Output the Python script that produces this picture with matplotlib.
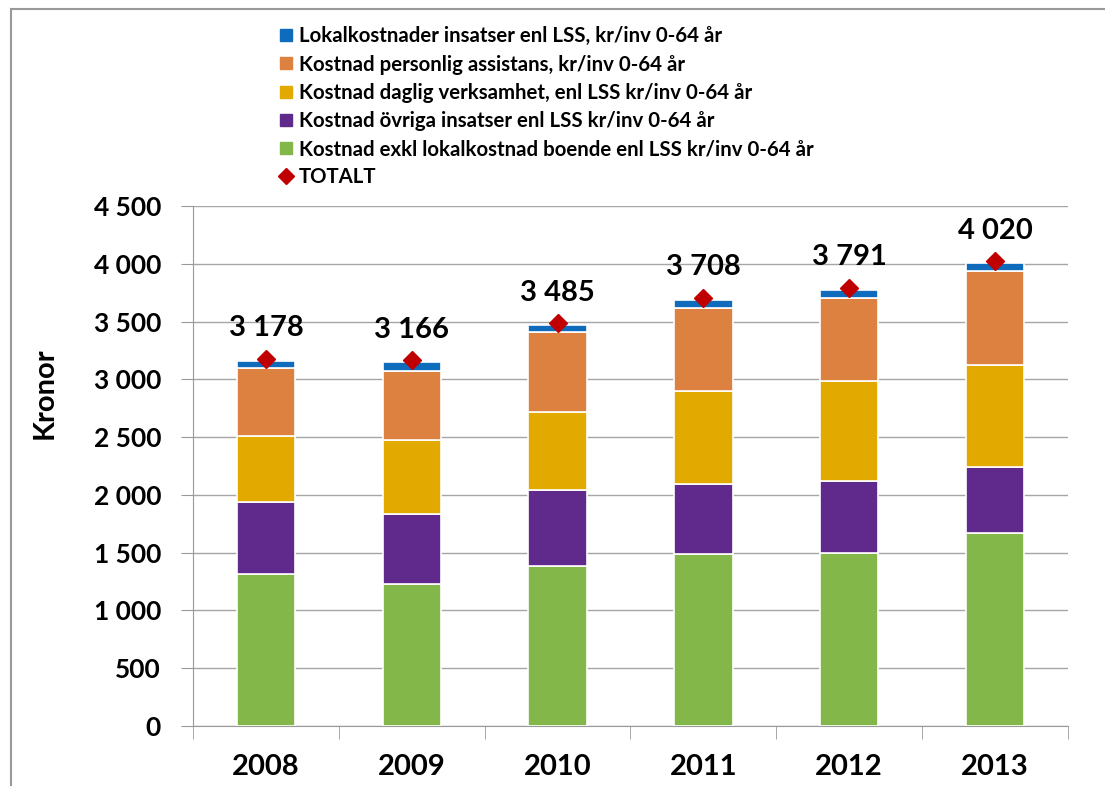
import matplotlib.pyplot as plt
import numpy as np
from matplotlib.lines import Line2D

# DATA
years = ['2008', '2009', '2010', '2011', '2012', '2013']
exkl_lokal = [1315, 1229, 1385, 1488, 1497, 1670]      # green
ovriga = [623, 606, 657, 606, 623, 571]                 # purple
daglig = [572, 640, 675, 805, 865, 883]                 # yellow
assistans = [588, 597, 693, 718, 719, 813]              # orange
lokal = [60, 78, 60, 69, 69, 70]                        # blue
totalt = [3178, 3166, 3485, 3708, 3791, 4020]
total_labels = ['3 178', '3 166', '3 485', '3 708', '3 791', '4 020']
yticks = [0, 500, 1000, 1500, 2000, 2500, 3000, 3500, 4000, 4500]
ytick_labels = ['0', '500', '1 000', '1 500', '2 000', '2 500', '3 000', '3 500', '4 000', '4 500']

names = ['Lokalkostnader insatser enl LSS, kr/inv 0-64 år',
         'Kostnad personlig assistans, kr/inv 0-64 år',
         'Kostnad daglig verksamhet, enl LSS kr/inv 0-64 år',
         'Kostnad övriga insatser enl LSS kr/inv 0-64 år',
         'Kostnad exkl lokalkostnad boende enl LSS kr/inv 0-64 år',
         'TOTALT']

c_blue = '#0F6CBD'
c_orange = '#DC8140'
c_yellow = '#E2AA00'
c_purple = '#5F2A8C'
c_green = '#83B74A'
c_red = '#C00000'

plt.rcParams['font.family'] = ['Lato', 'DejaVu Sans']

fig = plt.figure(figsize=(11.05, 7.86), dpi=100)
ax = fig.add_axes([193/1105, 1-726/786, (1068-193)/1105, (726-206)/786])

x = np.arange(len(years))
w = 0.4
bottom = np.zeros(len(years))
for vals, col in [(exkl_lokal, c_green), (ovriga, c_purple), (daglig, c_yellow),
                  (assistans, c_orange), (lokal, c_blue)]:
    ax.bar(x, vals, w, bottom=bottom, color=col, edgecolor='white', linewidth=1.2, zorder=3)
    bottom += np.array(vals)

ax.plot(x, totalt, linestyle='none', marker='D', markersize=9, color=c_red, zorder=5)
for xi, t, lab in zip(x, totalt, total_labels):
    ax.annotate(lab, (xi, t), xytext=(0, 22), textcoords='offset points',
                ha='center', va='center', fontsize=21, fontweight='bold')

ax.set_xlim(-0.5, len(years)-0.5)
ax.set_ylim(0, 4500)
ax.set_yticks(yticks)
ax.set_yticklabels(ytick_labels, fontsize=19, fontweight='bold')
ax.set_xticks(x)
ax.set_xticklabels(years, fontsize=21, fontweight='bold')
ax.set_xticks(np.arange(len(years)+1)-0.5, minor=True)
ax.tick_params(axis='x', which='major', length=0, pad=20)
ax.tick_params(axis='x', which='minor', length=9, color='#999999', direction='out')
ax.tick_params(axis='y', length=9, color='#999999', pad=14)
ax.grid(axis='y', color='#A6A6A6', linewidth=1, zorder=0)
for s in ['top', 'right']:
    ax.spines[s].set_visible(False)
ax.spines['left'].set_color('#999999')
ax.spines['bottom'].set_color('#999999')

fig.text(45/1105, 1-393/786, 'Kronor', rotation=90, ha='center', va='center',
         fontsize=21, fontweight='bold')

# LEGEND
handles = [Line2D([], [], linestyle='none', marker='s', markersize=9, color=c)
           for c in [c_blue, c_orange, c_yellow, c_purple, c_green]]
handles.append(Line2D([], [], linestyle='none', marker='D', markersize=8, color=c_red))
fig.legend(handles, names, loc='upper left', bbox_to_anchor=(255/1105, 1-8/786),
           frameon=False, handletextpad=0.05, labelspacing=0.40,
           prop={'weight': 'bold', 'size': 14.7}, handlelength=1.2)

# RAM RUNT FIGUREN
fig.add_artist(Line2D([11/1105, 1], [1-9/786, 1-9/786], color='#999999', linewidth=1.5))
fig.add_artist(Line2D([11/1105, 11/1105], [0, 1-9/786], color='#999999', linewidth=1.5))

fig.savefig('out.png', dpi=100)
